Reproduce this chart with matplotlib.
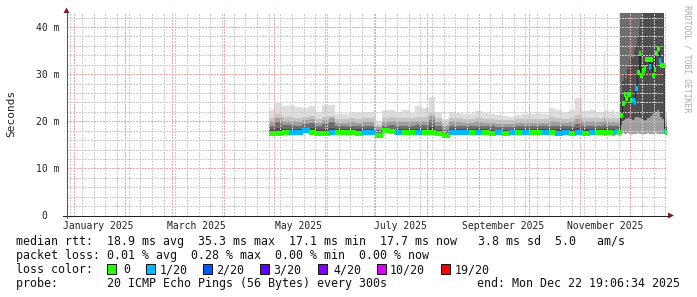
import matplotlib
matplotlib.use("Agg")
import matplotlib.pyplot as plt
import matplotlib.dates as mdates
from matplotlib.ticker import MultipleLocator
from matplotlib.patches import Polygon, Rectangle
from matplotlib.lines import Line2D
import numpy as np
import pandas as pd

W, H = 697, 297
MONO = "DejaVu Sans Mono"

# sampling: 4-day steps until mid November, then daily
dates_a = pd.date_range("2025-04-28", periods=50, freq="4D")
dates_b = pd.date_range("2025-11-14", periods=39, freq="D")

# median rtt (ms) and loss (pings out of 20)
med_a = [17.6, 17.6, 17.7, 17.8, 17.8, 18.2, 17.7, 17.6, 17.6, 17.7,
         17.8, 17.7, 17.7, 17.6, 17.8, 17.8, 17.1, 18.1, 17.9, 17.8,
         17.7, 17.7, 17.8, 17.7, 17.8, 17.6, 17.0, 17.8, 17.8, 17.7,
         17.7, 17.8, 17.7, 17.6, 17.7, 17.6, 17.7, 17.7, 17.8, 17.7,
         17.7, 17.8, 17.7, 17.6, 17.7, 17.6, 17.7, 17.6, 17.7, 17.7]
loss_a = [0, 0, 0, 1, 1, 1, 0, 0, 0, 1,
          0, 0, 0, 0, 1, 1, 0, 0, 0, 1,
          0, 0, 1, 0, 0, 0, 0, 1, 1, 1,
          0, 1, 0, 0, 1, 0, 1, 0, 1, 0,
          0, 1, 0, 1, 1, 0, 1, 0, 1, 0]
# smoke: min ping, max ping and inner ping levels (ms)
lo_a = [17.3, 17.3, 17.3, 17.4, 17.4, 17.5, 17.3, 17.3, 17.3, 17.3,
        17.4, 17.3, 17.3, 17.3, 17.4, 17.4, 16.5, 17.6, 17.5, 17.4,
        17.3, 17.3, 17.4, 17.3, 17.4, 17.2, 16.6, 17.4, 17.4, 17.3,
        17.3, 17.4, 17.3, 17.2, 17.3, 17.2, 17.3, 17.3, 17.4, 17.3,
        17.3, 17.4, 17.3, 17.2, 17.3, 17.2, 17.3, 17.2, 17.3, 17.3]
hi_a = [22.3, 23.8, 23.2, 23.4, 23.0, 22.8, 23.3, 22.0, 23.5, 23.4,
        21.5, 21.6, 21.8, 21.7, 22.0, 22.0, 19.8, 22.3, 22.5, 22.0,
        22.3, 21.8, 23.2, 22.8, 25.2, 22.0, 20.5, 22.0, 21.8, 21.5,
        21.6, 22.1, 21.8, 21.5, 21.3, 21.2, 21.0, 21.4, 21.6, 21.5,
        21.7, 21.5, 22.8, 22.3, 21.8, 22.4, 25.0, 22.2, 22.5, 22.0]
up1_a = [20.8, 21.5, 20.9, 21.0, 20.8, 20.9, 21.2, 20.5, 21.0, 21.2,
         20.4, 20.5, 20.6, 20.5, 20.7, 20.8, 19.3, 20.8, 20.9, 20.7,
         20.8, 20.6, 21.0, 20.9, 22.0, 20.6, 19.6, 20.7, 20.6, 20.4,
         20.5, 20.7, 20.5, 20.4, 20.3, 20.2, 20.2, 20.4, 20.5, 20.4,
         20.5, 20.4, 20.9, 20.7, 20.5, 20.7, 21.3, 20.6, 20.8, 20.6]
up2_a = [19.9, 20.8, 20.0, 20.1, 19.9, 20.2, 20.5, 19.7, 20.3, 20.6,
         19.7, 19.7, 19.8, 19.7, 19.9, 19.9, 18.8, 19.9, 20.0, 19.8,
         19.9, 19.8, 20.1, 20.0, 21.2, 19.8, 18.9, 19.8, 19.8, 19.6,
         19.7, 19.8, 19.7, 19.6, 19.5, 19.5, 19.4, 19.6, 19.7, 19.6,
         19.7, 19.6, 20.0, 19.9, 19.7, 19.8, 20.4, 19.8, 19.9, 19.8]
up3_a = [19.1, 19.9, 19.2, 19.2, 19.1, 19.4, 19.6, 19.0, 19.4, 19.8,
         19.0, 19.0, 19.0, 19.0, 19.1, 19.1, 18.2, 19.1, 19.2, 19.0,
         19.1, 19.0, 19.2, 19.2, 20.3, 19.0, 18.2, 19.0, 19.0, 18.9,
         18.9, 19.0, 18.9, 18.9, 18.8, 18.8, 18.8, 18.9, 18.9, 18.9,
         18.9, 18.9, 19.1, 19.0, 18.9, 19.0, 19.4, 19.0, 19.0, 19.0]
up4_a = [18.3, 18.6, 18.3, 18.4, 18.4, 18.6, 18.5, 18.3, 18.4, 18.6,
         18.4, 18.3, 18.3, 18.3, 18.4, 18.4, 17.6, 18.5, 18.4, 18.3,
         18.3, 18.3, 18.4, 18.3, 18.8, 18.2, 17.5, 18.4, 18.4, 18.3,
         18.3, 18.3, 18.3, 18.2, 18.2, 18.2, 18.2, 18.3, 18.3, 18.3,
         18.3, 18.3, 18.3, 18.3, 18.3, 18.3, 18.5, 18.3, 18.3, 18.3]

med_b = [17.7, 17.6, 17.7, 17.7, 17.8, 17.7, 17.6, 17.7, 17.9, 17.7, 17.7,
         21.3, 23.8, 25.7, 25.0, 25.7, 25.7, 24.5, 24.5, 24.0, 27.0,
         30.5, 34.5, 29.8, 30.8, 31.5, 33.3, 33.3, 31.7, 33.2, 29.8,
         31.0, 34.5, 35.5, 33.0, 31.9, 31.9, 17.9, 17.7]
loss_b = [0, 0, 0, 0, 0, 0, 0, 1, 1, 0, 0,
          0, 0, 0, 0, 0, 0, 0, 1, 1, 1,
          0, 0, 0, 0, 0, 0, 0, 1, 0, 0,
          0, 0, 0, 1, 0, 0, 1, 0]
lo_b = [17.3, 17.3, 17.3, 17.3, 17.4, 17.3, 17.3, 17.3, 17.4, 17.3, 17.3,
        17.4, 17.5, 17.4, 17.4, 17.5, 17.4, 17.4, 17.3, 17.4, 17.4, 17.5, 17.4, 17.4,
        17.3, 17.4, 17.4, 17.5, 17.4, 17.4, 17.3, 17.4, 17.5, 17.4, 17.4, 17.4, 17.3, 17.5, 17.3]
lo_in_b = [17.3, 17.3, 17.3, 17.3, 17.4, 17.3, 17.3, 17.3, 17.4, 17.3, 17.3,
           19.2, 19.8, 20.3, 20.5, 20.8, 20.6, 20.4, 20.2, 20.5, 20.9, 21.0, 20.6, 20.8,
           20.2, 20.0, 20.3, 20.6, 20.8, 21.2, 21.5, 21.0, 22.0, 22.3, 22.0, 21.0, 20.5, 17.5, 17.3]
hi_b = [22.0, 35.0, 22.5, 22.0, 22.3, 21.8, 22.5, 22.0, 21.5, 22.0, 22.5,
        48.0, 48.0, 48.0, 48.0, 48.0, 48.0, 48.0, 48.0, 48.0, 48.0, 48.0, 48.0, 48.0,
        48.0, 48.0, 48.0, 48.0, 48.0, 48.0, 48.0, 48.0, 48.0, 48.0, 48.0, 48.0, 48.0, 24.0, 22.0]
up1_b = [20.7, 22.0, 20.8, 20.6, 20.7, 20.5, 20.8, 20.6, 20.4, 20.6, 20.8,
         48.0, 48.0, 48.0, 48.0, 48.0, 48.0, 48.0, 48.0, 48.0, 48.0, 48.0, 48.0, 48.0,
         48.0, 48.0, 48.0, 48.0, 48.0, 48.0, 48.0, 48.0, 48.0, 48.0, 48.0, 48.0, 48.0, 21.5, 20.6]
up2_b = [19.8, 20.6, 19.9, 19.8, 19.8, 19.7, 19.9, 19.8, 19.6, 19.8, 19.9,
         48.0, 48.0, 48.0, 48.0, 48.0, 48.0, 48.0, 48.0, 48.0, 48.0, 48.0, 48.0, 48.0,
         48.0, 48.0, 48.0, 48.0, 48.0, 48.0, 48.0, 48.0, 48.0, 48.0, 48.0, 48.0, 48.0, 20.5, 19.8]
up3_b = [19.0, 19.5, 19.0, 19.0, 19.0, 18.9, 19.1, 19.0, 18.9, 19.0, 19.1,
         48.0, 48.0, 48.0, 48.0, 48.0, 48.0, 48.0, 48.0, 48.0, 48.0, 48.0, 48.0, 48.0,
         48.0, 48.0, 48.0, 48.0, 48.0, 48.0, 48.0, 48.0, 48.0, 48.0, 48.0, 48.0, 48.0, 19.5, 19.0]
up4_b = [18.3, 18.5, 18.3, 18.3, 18.3, 18.3, 18.4, 18.3, 18.3, 18.3, 18.4,
         26.0, 28.5, 30.0, 29.0, 31.0, 33.0, 34.0, 33.5, 35.0, 36.0, 38.0, 40.0, 42.0,
         48.0, 48.0, 48.0, 48.0, 48.0, 48.0, 48.0, 48.0, 48.0, 48.0, 48.0, 48.0, 48.0, 18.6, 18.3]

loss_labels = ["0", "1/20", "2/20", "3/20", "4/20", "10/20", "19/20"]
loss_colors = ["#26ff00", "#00b8ff", "#0059ff", "#5e00ff", "#7e00ff", "#dd00ff", "#ff0000"]
loss_levels = [0, 1, 2, 3, 4, 10, 19]

month_labels = ["January 2025", "March 2025", "May 2025", "July 2025",
                "September 2025", "November 2025"]
month_label_dates = ["2025-01-16", "2025-03-16", "2025-05-16", "2025-07-16",
                     "2025-09-16", "2025-11-16"]
ytick_vals = [0, 10, 20, 30, 40]
ytick_labels = ["0  ", "10 m", "20 m", "30 m", "40 m"]

stats_rtt = "median rtt:  18.9 ms avg  35.3 ms max  17.1 ms min  17.7 ms now   3.8 ms sd  5.0   am/s"
stats_loss = "packet loss: 0.01 % avg  0.28 % max  0.00 % min  0.00 % now"
probe_txt = "probe:       20 ICMP Echo Pings (56 Bytes) every 300s"
end_txt = "end: Mon Dec 22 19:06:34 2025"

end_time = pd.Timestamp("2025-12-22 19:06:34")


def fx(x):
    return x / W


def fy(y):
    return 1 - y / H


# assemble series
x = mdates.date2num(list(dates_a) + list(dates_b))
widths = np.r_[np.full(len(dates_a), 4.0), np.full(len(dates_b), 1.0)]
med = np.array(med_a + med_b)
loss = np.array(loss_a + loss_b)
lo = np.array(lo_a + lo_b)
lo_in = np.array(lo_a + lo_in_b)
hi = np.array(hi_a + hi_b)
up1 = np.array(up1_a + up1_b)
up2 = np.array(up2_a + up2_b)
up3 = np.array(up3_a + up3_b)
up4 = np.array(up4_a + up4_b)

fig = plt.figure(figsize=(W / 100, H / 100), dpi=100, facecolor="white")
ax = fig.add_axes([fx(66.5), fy(215.5), 600 / W, (215.5 - 13.4) / H])
ax.set_facecolor("white")

bands = [(lo, hi, "#dddddd"), (lo, up1, "#c4c4c4"), (lo, up2, "#9e9e9e"),
         (lo_in, up3, "#6e6e6e"), (lo_in, up4, "#4e4e4e")]
for bot, top, col in bands:
    ax.bar(x, top - bot, width=widths, bottom=bot, align="edge", color=col,
           linewidth=0, antialiased=False, zorder=1)

# median: thin dark step, then loss coloured segments
edges = np.r_[x, x[-1] + widths[-1]]
ax.step(edges, np.r_[med, med[-1]], where="post", color="#202020", lw=0.6, zorder=3)
seg_cols = [loss_colors[loss_levels.index(v)] for v in loss]
ax.hlines(med, x, x + widths, colors=seg_cols, linewidth=2.25, zorder=4,
          capstyle="butt", antialiased=False)

ax.set_xlim(mdates.date2num(end_time - pd.Timedelta(days=360)), mdates.date2num(end_time))
ax.set_ylim(0, 42.9)

ax.xaxis.set_major_locator(mdates.MonthLocator())
ax.xaxis.set_minor_locator(mdates.WeekdayLocator(byweekday=mdates.MO))
ax.yaxis.set_major_locator(MultipleLocator(10))
ax.yaxis.set_minor_locator(MultipleLocator(2))
ax.set_axisbelow(False)
ax.grid(which="minor", color="#cdcdcd", linestyle=(0, (1.4, 1.4)),
        linewidth=0.7, antialiased=False)
ax.grid(which="major", color="#eea8a8", linestyle=(0, (1.4, 1.4)),
        linewidth=0.7, antialiased=False)
ax.tick_params(which="both", length=0, labelbottom=False, labelleft=False)
for s in ax.spines.values():
    s.set_visible(False)

for lab, d in zip(month_labels, month_label_dates):
    ax.annotate(lab, xy=(mdates.date2num(pd.Timestamp(d)), 0), xycoords=("data", "axes fraction"),
                xytext=(0, -13.5), textcoords="offset pixels", ha="center", va="baseline",
                family=MONO, fontsize=7.0, color="#222222", annotation_clip=False)
for v, lab in zip(ytick_vals, ytick_labels):
    ax.annotate(lab, xy=(0, v), xycoords=("axes fraction", "data"),
                xytext=(-6.7, -3.5), textcoords="offset pixels", ha="right", va="baseline",
                family=MONO, fontsize=7.0, color="#222222", annotation_clip=False)

# axes lines with arrows
fig.add_artist(Line2D([fx(63), fx(669)], [fy(215.5), fy(215.5)], color="#222222", lw=0.7,
                      antialiased=False))
fig.add_artist(Line2D([fx(66.5), fx(66.5)], [fy(218), fy(12)], color="#555555", lw=0.7,
                      antialiased=False))
fig.add_artist(Polygon([(fx(668), fy(212.5)), (fx(668), fy(218.5)), (fx(674), fy(215.5))],
                       closed=True, color="#8b1a1a", lw=0))
fig.add_artist(Polygon([(fx(63.5), fy(13)), (fx(69.5), fy(13)), (fx(66.5), fy(7.5))],
                       closed=True, color="#8b1a1a", lw=0))

fig.text(fx(11), fy(113.5), "Seconds", rotation=90, ha="center", va="center",
         family=MONO, fontsize=8.0, color="#222222")
fig.text(fx(686.5), fy(59), "RRDTOOL / TOBI OETIKER", rotation=270, ha="center", va="center",
         family=MONO, fontsize=5.9, color="#aaaaaa")

# legend rows
fs = 8.4
fig.text(fx(16), fy(245.3), stats_rtt, ha="left", va="baseline", family=MONO, fontsize=fs, color="#111111")
fig.text(fx(16), fy(259.3), stats_loss, ha="left", va="baseline", family=MONO, fontsize=fs, color="#111111")
fig.text(fx(16), fy(273.3), "loss color:", ha="left", va="baseline", family=MONO, fontsize=fs, color="#111111")
sq_x = [107, 146, 203, 260, 318, 377, 441]
lab_x = [123, 160, 216, 273, 333, 390, 455]
for sx, lx, lab, col in zip(sq_x, lab_x, loss_labels, loss_colors):
    fig.add_artist(Rectangle((fx(sx), fy(274)), 9 / W, 10 / H, facecolor=col,
                             edgecolor="#111111", lw=0.7))
    fig.text(fx(lx), fy(273.3), lab, ha="left", va="baseline", family=MONO, fontsize=fs, color="#111111")
fig.text(fx(16), fy(287.3), probe_txt, ha="left", va="baseline", family=MONO, fontsize=fs, color="#111111")
fig.text(fx(680), fy(287.3), end_txt, ha="right", va="baseline", family=MONO, fontsize=fs, color="#111111")

fig.savefig("out.png", dpi=100, facecolor="white")
